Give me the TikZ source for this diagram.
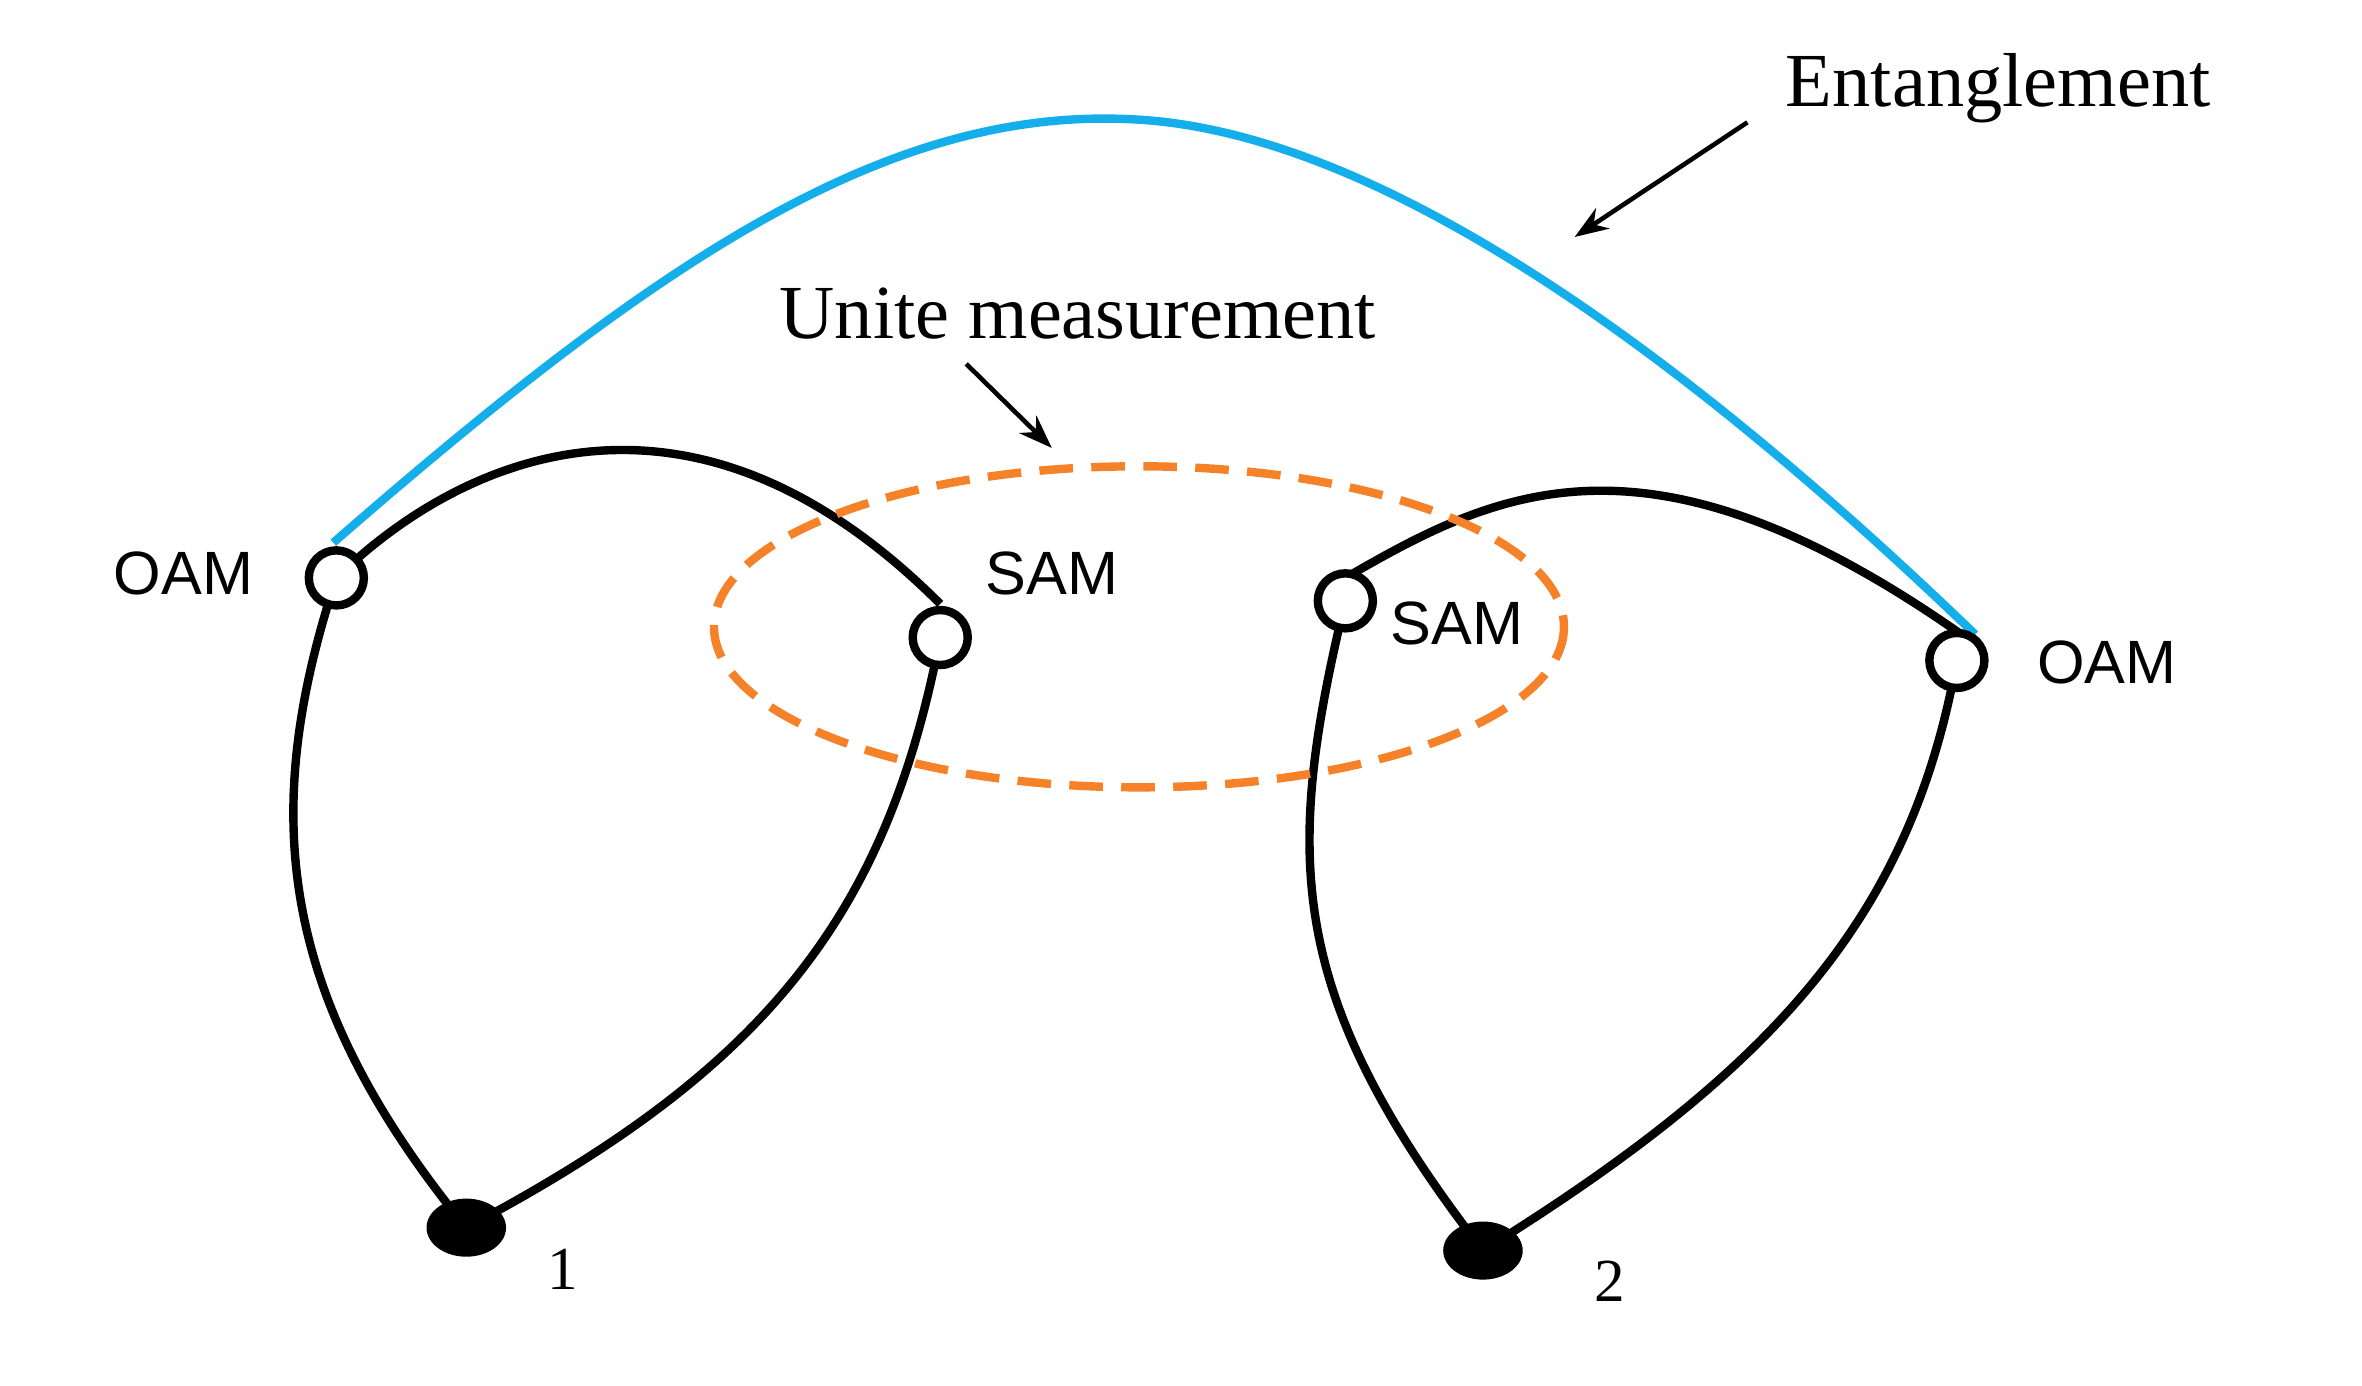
\documentclass[tikz,border=0pt]{standalone}
\usepackage{fontspec}
\setmainfont{Liberation Serif}
\newfontfamily\sansf{Liberation Sans}
\usetikzlibrary{arrows.meta,shapes.geometric}
\definecolor{sky}{RGB}{20,175,235}
\definecolor{org}{RGB}{245,130,40}
\begin{document}
\begin{tikzpicture}[x=1pt,y=-1pt,
  hollow/.style={circle,draw=black,line width=5.5pt,fill=white,minimum size=36pt,inner sep=0pt},
  solid/.style={ellipse,fill=black,minimum width=52pt,minimum height=38pt,inner sep=0pt},
  edge/.style={line width=5.5pt},
  lab/.style={font=\sansf\fontsize{40}{44}\selectfont},
  num/.style={font=\fontsize{40}{44}\selectfont},
  ser/.style={font=\fontsize{50}{56}\selectfont},
  arr/.style={line width=3pt,-{Stealth[length=22pt,width=16pt]}}]
\useasboundingbox (0,0) rectangle (1545,906);
\coordinate (o1) at (220,378); \coordinate (s1) at (615,417);
\coordinate (s2) at (880,393); \coordinate (o2) at (1280,432);
\coordinate (d1) at (305,803); \coordinate (d2) at (970,818);
\draw[edge] (o1) .. controls (300,300) and (450,230) .. (615,395);
\draw[edge] (o1) .. controls (170,530) and (180,650) .. (d1);
\draw[edge] (s1) .. controls (580,600) and (500,700) .. (d1);
\draw[edge] (880,378) .. controls (980,320) and (1080,270) .. (1290,420);
\draw[edge] (s2) .. controls (840,560) and (840,650) .. (d2);
\draw[edge] (o2) .. controls (1250,600) and (1160,700) .. (d2);
\draw[org,line width=5.5pt,dash pattern=on 22pt off 12pt] (745,410) ellipse [x radius=278,y radius=105];
\draw[sky,line width=5.5pt] (218,355) .. controls (430,170) and (580,70) .. (740,78) .. controls (900,85) and (1100,230) .. (1292,415);
\node[hollow] (n1) at (o1) {}; \node[hollow] (n2) at (s1) {};
\node[hollow] (n3) at (s2) {}; \node[hollow] (n4) at (o2) {};
\node[solid] (m1) at (d1) {}; \node[solid] (m2) at (d2) {};
\node[lab] (t1) at (120,375) {OAM};
\node[lab] (t2) at (688,375) {SAM};
\node[lab] (t3) at (953,408) {SAM};
\node[lab] (t4) at (1378,433) {OAM};
\node[num] (t5) at (368,830) {1};
\node[num] (t6) at (1053,838) {2};
\node[ser] (e) at (1307,58) {Entanglement};
\node[ser] (u) at (705,205) {Unite measurement};
\coordinate (ea) at (1143,80); \coordinate (eb) at (1030,155);
\coordinate (ua) at (632,238); \coordinate (ub) at (688,293);
\draw[arr] (ea) -- (eb);
\draw[arr] (ua) -- (ub);
\end{tikzpicture}
\end{document}
